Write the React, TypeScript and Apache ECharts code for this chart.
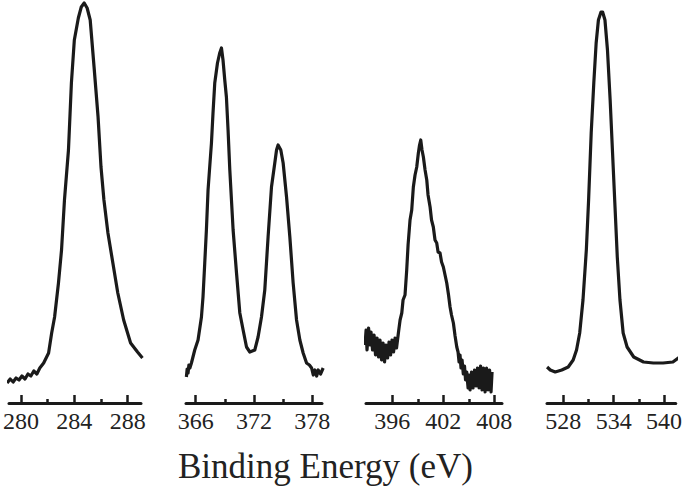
import React, { useEffect, useRef } from "react";
import * as echarts from "echarts";

// C1s region
const C1S_EV = [278.96, 279.19, 279.41, 279.63, 279.85, 280.07, 280.3, 280.52, 280.74, 280.96, 281.19, 281.41, 281.7, 282.07, 282.3, 282.52, 282.81, 283.04, 283.26, 283.56, 283.78, 284.0, 284.3, 284.52, 284.74, 284.96, 285.19, 285.48, 285.78, 286.0, 286.22, 286.52, 286.89, 287.26, 287.7, 288.22, 288.74, 289.11];
const C1S_I = [20, 24, 21, 25, 23, 27, 24, 29, 27, 32, 29, 35, 40, 50, 70, 86, 120, 153, 203, 253, 320, 363, 385, 396, 400, 395, 383, 336, 286, 236, 203, 170, 140, 110, 83, 60, 51, 45];

// Ag3d region
const AG_EV = [365.04, 365.12, 365.21, 365.3, 365.4, 365.56, 365.9, 366.24, 366.59, 366.75, 366.93, 367.1, 367.27, 367.44, 367.62, 367.78, 367.96, 368.24, 368.47, 368.65, 368.81, 368.99, 369.16, 369.33, 369.51, 369.85, 370.2, 370.54, 370.88, 371.23, 371.57, 372.08, 372.42, 372.77, 373.11, 373.45, 373.8, 374.14, 374.32, 374.48, 374.76, 375.0, 375.35, 375.69, 376.03, 376.38, 376.72, 377.06, 377.41, 377.7, 377.93, 378.1, 378.27, 378.45, 378.61, 378.85, 379.12];
const AG_I = [26, 34, 30, 38, 35, 40, 53, 63, 86, 106, 140, 173, 213, 236, 260, 290, 320, 340, 350, 355, 343, 323, 306, 273, 233, 173, 130, 90, 73, 56, 51, 53, 66, 86, 113, 166, 216, 240, 253, 258, 253, 240, 206, 166, 120, 83, 63, 50, 40, 38, 35, 28, 33, 27, 33, 29, 35];

// N1s region
const N1S_EV = [392.79, 392.91, 393.02, 393.2, 393.38, 393.49, 393.67, 393.85, 394.02, 394.2, 394.38, 394.55, 394.73, 394.91, 395.08, 395.26, 395.44, 395.61, 395.79, 395.96, 396.14, 396.32, 396.49, 396.71, 396.91, 397.11, 397.26, 397.49, 397.69, 397.85, 398.08, 398.28, 398.47, 398.67, 398.87, 399.06, 399.2, 399.34, 399.49, 399.65, 399.85, 400.05, 400.2, 400.44, 400.61, 400.82, 401.02, 401.22, 401.38, 401.61, 401.79, 402.0, 402.2, 402.4, 402.61, 402.79, 402.96, 403.18, 403.38, 403.58, 403.73, 403.85, 403.96, 404.08, 404.2, 404.35, 404.49, 404.61, 404.75, 404.91, 405.02, 405.14, 405.32, 405.49, 405.67, 405.85, 406.02, 406.2, 406.38, 406.55, 406.73, 406.91, 407.08, 407.26, 407.44, 407.61, 407.73];
const N1S_I = [58, 73, 53, 75, 58, 71, 53, 68, 48, 65, 46, 63, 43, 60, 41, 58, 45, 61, 48, 63, 51, 65, 55, 70, 83, 90, 103, 108, 133, 158, 183, 193, 216, 228, 236, 250, 258, 263, 253, 246, 233, 223, 208, 196, 183, 176, 163, 160, 151, 150, 141, 136, 128, 120, 108, 96, 88, 80, 67, 56, 51, 41, 48, 35, 43, 29, 37, 23, 31, 15, 28, 13, 31, 15, 33, 17, 35, 15, 37, 13, 35, 11, 35, 13, 33, 11, 31];

// O1s region
const O1S_EV = [526.06, 526.44, 527.03, 527.81, 528.58, 529.17, 529.57, 529.95, 530.34, 530.74, 531.01, 531.32, 531.63, 531.91, 532.18, 532.49, 532.68, 532.96, 533.26, 533.58, 533.85, 534.16, 534.43, 534.75, 535.13, 535.6, 536.39, 537.56, 538.73, 539.89, 541.06, 541.85];
const O1S_I = [36, 33, 31, 33, 36, 43, 53, 70, 103, 153, 203, 270, 320, 360, 383, 391, 391, 383, 353, 303, 253, 196, 146, 103, 70, 56, 46, 41, 40, 40, 41, 46];

// Axis ranges and ticks
const X_MIN = [279.1, 365.0, 392.9, 526.05];
const X_MAX = [289.0, 379.0, 408.9, 541.4];
const MAJOR_TICKS = [[280, 284, 288], [366, 372, 378], [396, 402, 408], [528, 534, 540]];
const MINOR_TICKS = [[282, 286], [369, 375], [399, 405], [531, 537]];
const TITLE = "Binding Energy (eV)";

const GRID_LEFT = [7, 186, 366, 547];
const GRID_WIDTH = [134, 136, 136, 131];

const INK = "#1a1a1a";
const SERIF = "serif";

const zip = (xs: number[], ys: number[]) => xs.map((x, i) => [x, ys[i]]);

export default function App() {
  const ref = useRef<HTMLDivElement>(null);
  useEffect(() => {
    if (!ref.current) return;
    const chart = echarts.init(ref.current, null, { renderer: "svg" });
    const datasets = [zip(C1S_EV, C1S_I), zip(AG_EV, AG_I), zip(N1S_EV, N1S_I), zip(O1S_EV, O1S_I)];
    const grid = GRID_LEFT.map((l, i) => ({ left: l, width: GRID_WIDTH[i], top: 3, height: 400 }));
    const xAxis: any[] = [];
    const yAxis: any[] = [];
    const series: any[] = [];
    for (let i = 0; i < 4; i++) {
      xAxis.push({
        type: "value",
        gridIndex: i,
        position: "bottom",
        min: X_MIN[i],
        max: X_MAX[i],
        axisLine: { show: true, onZero: false, lineStyle: { color: INK, width: 3 } },
        axisTick: { show: true, inside: true, length: 8, customValues: MAJOR_TICKS[i], lineStyle: { color: INK, width: 2.5 } },
        axisLabel: { show: true, customValues: MAJOR_TICKS[i], fontSize: 24, fontFamily: SERIF, color: "#222", margin: 6 },
        splitLine: { show: false },
      });
      xAxis.push({
        type: "value",
        gridIndex: i,
        position: "bottom",
        min: X_MIN[i],
        max: X_MAX[i],
        axisLine: { show: false, onZero: false },
        axisTick: { show: true, inside: true, length: 4, customValues: MINOR_TICKS[i], lineStyle: { color: INK, width: 2.5 } },
        axisLabel: { show: false },
        splitLine: { show: false },
      });
      yAxis.push({ type: "value", gridIndex: i, min: 0, max: 400, show: false, splitLine: { show: false } });
      series.push({
        type: "line",
        xAxisIndex: 2 * i,
        yAxisIndex: i,
        data: datasets[i],
        showSymbol: false,
        clip: false,
        silent: true,
        lineStyle: { color: INK, width: 3.2, join: "round" },
      });
    }
    chart.setOption({
      animation: false,
      backgroundColor: "#ffffff",
      textStyle: { fontFamily: SERIF },
      grid,
      xAxis,
      yAxis,
      series,
      graphic: [
        {
          type: "text",
          left: 178,
          top: 449,
          style: { text: TITLE, fontSize: 35, fontFamily: SERIF, fill: "#222" },
        },
      ],
    });
    return () => chart.dispose();
  }, []);
  return <div ref={ref} style={{ position: "fixed", left: 0, top: 0, width: 685, height: 493 }} />;
}
